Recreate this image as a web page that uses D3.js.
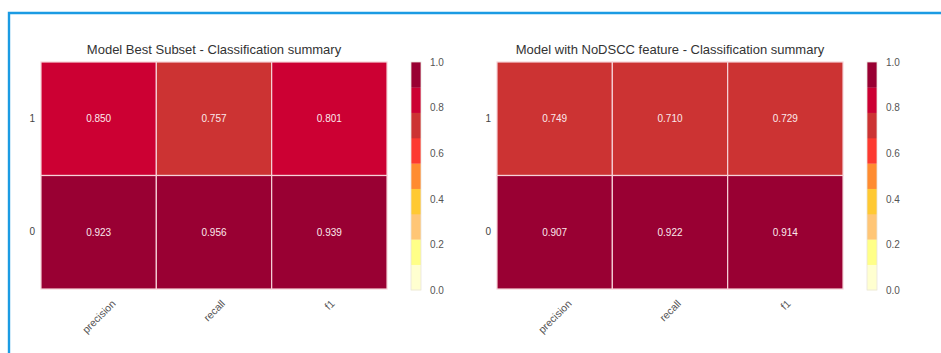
<!DOCTYPE html>
<html>
<head>
<meta charset="utf-8">
<script src="https://cdn.jsdelivr.net/npm/d3@7"></script>
<style>
  html, body { margin: 0; padding: 0; background: #ffffff; }
  svg { display: block; }
  text { font-family: "Liberation Sans", Arial, sans-serif; }
</style>
</head>
<body>
<svg id="chart" width="941" height="353"></svg>
<script>
// Class labels (top row first) and metric columns
const classes = ["1", "0"];
const metrics = ["precision", "recall", "f1"];

// Classification report scores, one row per class
const bestSubsetScores = [
  [0.850, 0.757, 0.801],
  [0.923, 0.956, 0.939]
];
const noDsccScores = [
  [0.749, 0.710, 0.729],
  [0.907, 0.922, 0.914]
];

const panelTitles = [
  "Model Best Subset - Classification summary",
  "Model with NoDSCC feature - Classification summary"
];

// Colour bar ticks and the 9-step yellow-orange-red palette (low to high)
const colorbarTicks = [0.0, 0.2, 0.4, 0.6, 0.8, 1.0];
const palette = ["#ffffd0", "#ffff88", "#ffc676", "#ffc933", "#ff8c30",
                 "#fd3a30", "#cc3333", "#cc0033", "#990033"];

const color = d3.scaleQuantize().domain([0, 1]).range(palette);

const svg = d3.select("#chart");

// Frame around the figure
svg.append("path")
  .attr("d", "M9,353 L9,13 L941,13")
  .attr("fill", "none")
  .attr("stroke", "#1b9be3")
  .attr("stroke-width", 2.4);

function drawPanel(originX, scores, title) {
  const top = 62, height = 227, width = 346;
  const g = svg.append("g").attr("transform", `translate(${originX},${top})`);

  const x = d3.scaleBand().domain(metrics).range([0, width]);
  const y = d3.scaleBand().domain(classes).range([0, height]);

  const cells = [];
  classes.forEach((c, i) => metrics.forEach((m, j) => cells.push({ c, m, v: scores[i][j] })));

  g.selectAll("rect.cell").data(cells).join("rect")
    .attr("class", "cell")
    .attr("x", d => x(d.m))
    .attr("y", d => y(d.c))
    .attr("width", x.bandwidth())
    .attr("height", y.bandwidth())
    .attr("fill", d => color(d.v))
    .attr("stroke", "#f6d3d8")
    .attr("stroke-width", 1.2);

  g.selectAll("text.val").data(cells).join("text")
    .attr("class", "val")
    .attr("x", d => x(d.m) + x.bandwidth() / 2)
    .attr("y", d => y(d.c) + y.bandwidth() / 2)
    .attr("text-anchor", "middle")
    .attr("dominant-baseline", "central")
    .attr("font-size", 10)
    .attr("fill", "#fbe9ec")
    .text(d => d.v.toFixed(3));

  // Title
  g.append("text")
    .attr("x", width / 2)
    .attr("y", -8)
    .attr("text-anchor", "middle")
    .attr("font-size", 13)
    .attr("fill", "#333333")
    .text(title);

  // Class axis
  const yAxis = g.append("g").call(d3.axisLeft(y).tickSize(0).tickPadding(6));
  yAxis.select(".domain").remove();
  yAxis.selectAll("text").attr("font-size", 10).attr("fill", "#444444")
    .attr("font-family", "'Liberation Sans', Arial, sans-serif");

  // Metric axis with rotated labels
  const xAxis = g.append("g").attr("transform", `translate(0,${height})`)
    .call(d3.axisBottom(x).tickSize(0));
  xAxis.select(".domain").remove();
  xAxis.selectAll("text")
    .attr("font-size", 10.5)
    .attr("fill", "#555555")
    .attr("font-family", "'Liberation Sans', Arial, sans-serif")
    .attr("text-anchor", "middle")
    .attr("dominant-baseline", "central")
    .attr("dy", null)
    .attr("y", 0)
    .each(function () {
      const len = this.getComputedTextLength();
      const half = (len + 10) * Math.SQRT1_2 / 2;
      d3.select(this).attr("transform", `translate(0,${9 + half}) rotate(-45)`);
    });

  // Colour bar
  const cbX = width + 24, cbW = 10;
  const cb = g.append("g").attr("transform", `translate(${cbX},0)`);
  const yc = d3.scaleLinear().domain([0, 1]).range([height + 1, 0]);
  const steps = d3.range(palette.length).map(i => ({
    lo: i / palette.length, hi: (i + 1) / palette.length, c: palette[i]
  }));
  cb.selectAll("rect").data(steps).join("rect")
    .attr("x", 0)
    .attr("y", d => yc(d.hi))
    .attr("width", cbW)
    .attr("height", d => yc(d.lo) - yc(d.hi) + 0.3)
    .attr("fill", d => d.c);
  cb.append("rect")
    .attr("x", 0).attr("y", yc(1))
    .attr("width", cbW).attr("height", yc(0) - yc(1))
    .attr("fill", "none")
    .attr("stroke", "#e8e4dc")
    .attr("stroke-width", 0.8);
  const cAxis = cb.append("g").attr("transform", `translate(${cbW},0)`)
    .call(d3.axisRight(yc).tickValues(colorbarTicks).tickFormat(d3.format(".1f")).tickSize(0).tickPadding(9));
  cAxis.select(".domain").remove();
  cAxis.selectAll("text").attr("font-size", 10).attr("fill", "#555555")
    .attr("font-family", "'Liberation Sans', Arial, sans-serif");
}

drawPanel(41, bestSubsetScores, panelTitles[0]);
drawPanel(497, noDsccScores, panelTitles[1]);
</script>
</body>
</html>
